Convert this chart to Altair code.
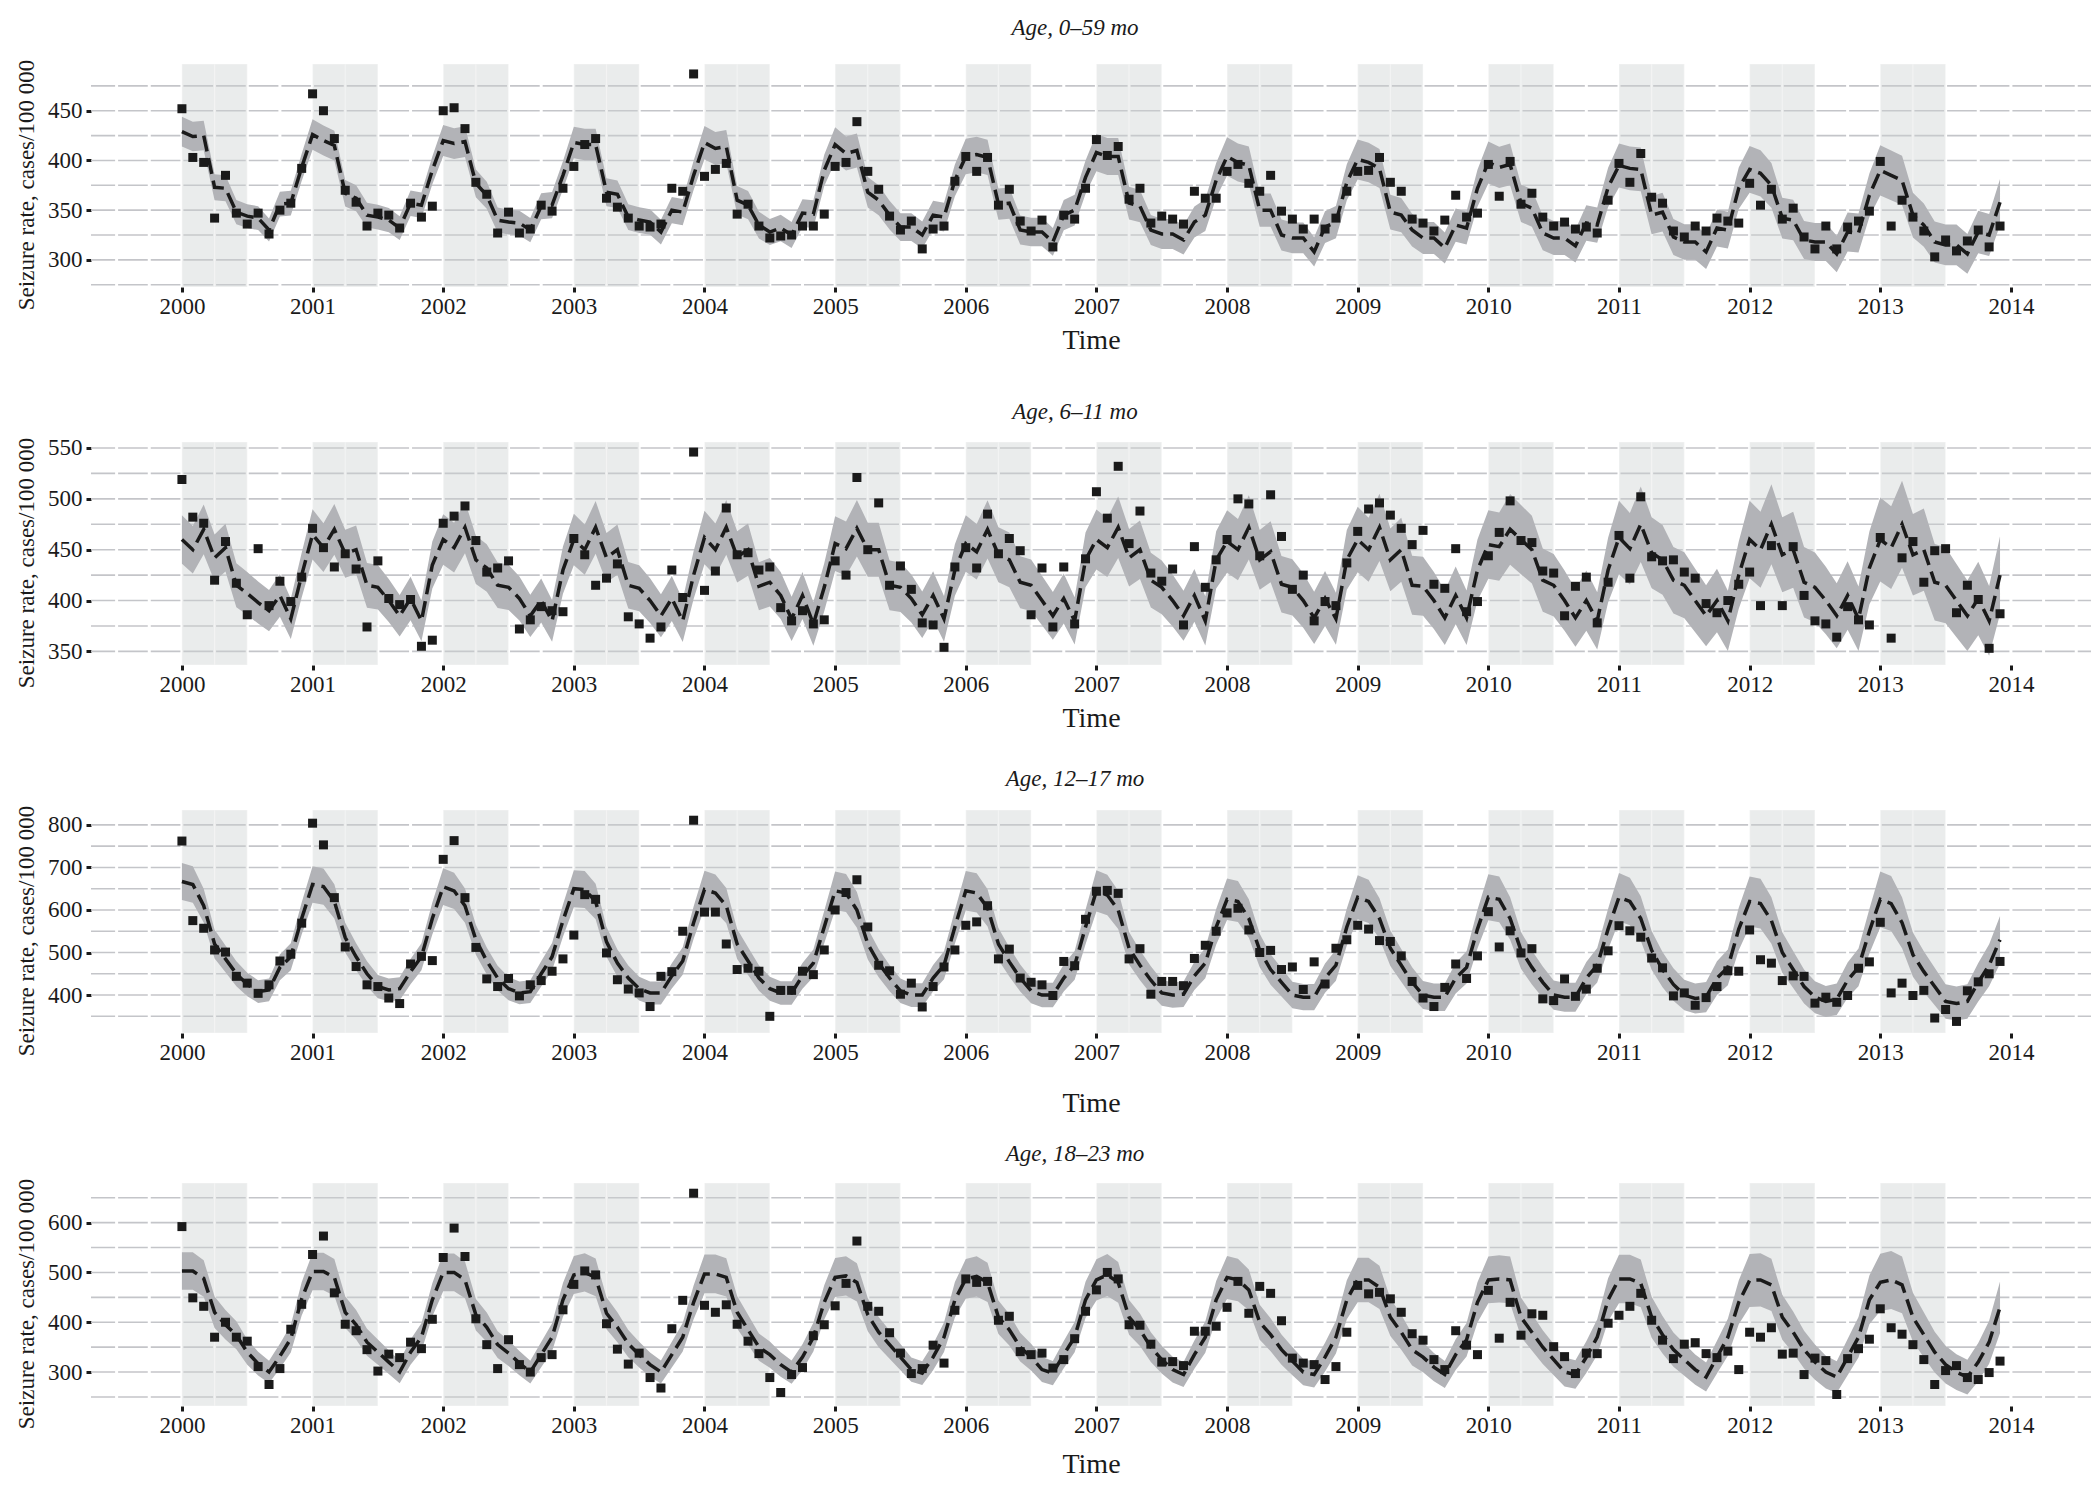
import altair as alt
import pandas as pd

YEARS = list(range(2000, 2014))
MONTHS = list(range(12))
X_TICKS = list(range(2000, 2015))
X_DOMAIN = [1999.304, 2014.613]
FONT = "Liberation Serif"
INK = "#1a1a1a"

titles = ["Age, 0\u201359 mo", "Age, 6\u201311 mo", "Age, 12\u201317 mo", "Age, 18\u201323 mo"]
y_title = "Seizure rate, cases/100 000"
x_title = "Time"

# ---- Panel 1: 0-59 mo ----
p1_obs = [452, 403, 398, 342, 385, 347, 336, 347, 326, 350, 357, 392,
          467, 450, 422, 370, 358, 334, 347, 345, 332, 357, 343, 354,
          450, 453, 432, 378, 366, 327, 348, 327, 331, 355, 349, 372,
          394, 416, 422, 362, 353, 342, 334, 333, 336, 372, 369, 487,
          384, 391, 397, 346, 356, 334, 322, 324, 325, 334, 334, 346,
          394, 398, 439, 389, 371, 344, 330, 339, 311, 331, 334, 379,
          404, 389, 403, 355, 371, 339, 329, 340, 313, 345, 341, 372,
          421, 405, 414, 361, 372, 337, 344, 341, 336, 369, 362, 362,
          389, 396, 377, 369, 385, 349, 341, 331, 341, 331, 342, 369,
          389, 390, 403, 378, 369, 341, 337, 329, 340, 365, 343, 347,
          396, 364, 399, 356, 367, 343, 334, 338, 331, 333, 327, 360,
          397, 378, 407, 363, 357, 329, 323, 334, 329, 342, 339, 337,
          377, 355, 371, 341, 352, 323, 311, 334, 311, 333, 339, 349,
          399, 334, 360, 343, 329, 303, 320, 309, 319, 330, 313, 334]
p1_fit = [429, 424, 425, 373, 372, 348, 344, 342, 330, 356, 357, 393,
          426, 420, 415, 367, 362, 345, 343, 340, 332, 357, 355, 390,
          420, 417, 419, 377, 365, 340, 338, 337, 330, 354, 355, 385,
          418, 416, 416, 368, 366, 343, 340, 338, 328, 350, 348, 385,
          418, 412, 414, 360, 355, 335, 328, 332, 325, 347, 346, 390,
          416, 407, 410, 368, 360, 345, 333, 333, 325, 345, 343, 380,
          404, 406, 403, 356, 357, 330, 328, 328, 318, 345, 350, 383,
          408, 404, 404, 357, 354, 330, 326, 326, 320, 338, 345, 380,
          404, 398, 395, 350, 350, 325, 322, 322, 308, 333, 338, 378,
          401, 398, 392, 348, 345, 330, 322, 322, 312, 335, 332, 372,
          398, 393, 396, 357, 352, 327, 322, 322, 314, 337, 335, 373,
          395, 392, 391, 345, 348, 323, 318, 318, 308, 332, 330, 372,
          391, 387, 375, 342, 340, 320, 318, 318, 306, 328, 327, 365,
          390, 385, 380, 345, 335, 318, 315, 315, 306, 328, 325, 358]
p1_relw = [0.035, 0.036, 0.037, 0.038, 0.040, 0.042, 0.044, 0.046, 0.048, 0.050, 0.053, 0.056, 0.060, 0.065]

# ---- Panel 2: 6-11 mo ----
p2_obs = [519, 482, 476, 420, 458, 417, 386, 451, 395, 419, 399, 423,
          471, 452, 433, 446, 431, 374, 439, 402, 396, 401, 355, 361,
          476, 483, 493, 459, 428, 432, 439, 372, 381, 394, 390, 389,
          461, 445, 415, 422, 436, 384, 377, 363, 374, 430, 403, 546,
          410, 429, 491, 445, 447, 430, 433, 393, 380, 390, 377, 381,
          439, 425, 521, 450, 496, 415, 434, 411, 378, 376, 354, 433,
          452, 432, 485, 446, 461, 449, 386, 432, 374, 433, 377, 441,
          507, 481, 532, 456, 488, 427, 419, 431, 376, 453, 413, 440,
          460, 500, 495, 444, 504, 463, 411, 425, 380, 399, 395, 437,
          468, 490, 496, 484, 471, 455, 469, 416, 412, 451, 389, 399,
          444, 467, 498, 459, 457, 429, 427, 385, 414, 423, 378, 418,
          464, 422, 502, 443, 439, 440, 428, 422, 397, 388, 400, 416,
          428, 395, 454, 395, 453, 405, 380, 377, 364, 394, 381, 376,
          462, 363, 442, 458, 418, 449, 451, 388, 415, 401, 353, 387]
p2_fit = [460, 450, 470, 442, 452, 415, 407, 398, 390, 405, 382, 425,
          465, 452, 470, 446, 450, 415, 413, 400, 385, 402, 380, 435,
          460, 452, 472, 440, 432, 415, 413, 402, 385, 400, 380, 430,
          460, 450, 472, 442, 450, 415, 412, 400, 385, 402, 380, 425,
          462, 450, 472, 443, 450, 414, 418, 405, 382, 405, 377, 413,
          456, 451, 471, 450, 450, 415, 413, 402, 386, 405, 382, 430,
          456, 448, 470, 445, 440, 418, 415, 400, 385, 402, 380, 440,
          460, 452, 472, 442, 450, 420, 413, 400, 385, 405, 380, 440,
          458, 450, 472, 440, 448, 416, 413, 400, 383, 402, 382, 440,
          460, 450, 472, 440, 450, 415, 414, 400, 383, 405, 383, 430,
          455, 453, 470, 460, 450, 420, 415, 400, 383, 400, 380, 430,
          462, 451, 475, 447, 440, 420, 415, 400, 385, 400, 380, 425,
          460, 450, 475, 445, 450, 418, 413, 400, 385, 405, 382, 432,
          460, 452, 475, 445, 450, 418, 415, 400, 385, 402, 380, 425]
p2_relw = [0.052, 0.053, 0.054, 0.055, 0.057, 0.059, 0.061, 0.064, 0.067, 0.070, 0.074, 0.078, 0.083, 0.090]

# ---- Panel 3: 12-17 mo ----
p3_obs = [762, 575, 557, 506, 501, 444, 428, 404, 424, 480, 496, 569,
          804, 753, 629, 513, 467, 424, 420, 393, 380, 473, 491, 481,
          719, 763, 629, 512, 438, 420, 439, 398, 424, 434, 456, 485,
          541, 636, 625, 499, 436, 414, 405, 373, 444, 455, 550, 811,
          595, 595, 520, 460, 463, 456, 350, 411, 411, 456, 448, 506,
          600, 641, 671, 560, 470, 457, 402, 428, 372, 420, 466, 506,
          564, 572, 610, 485, 508, 440, 430, 424, 399, 479, 469, 578,
          644, 646, 639, 485, 509, 402, 432, 432, 422, 486, 517, 550,
          593, 604, 553, 500, 505, 460, 466, 413, 478, 426, 510, 530,
          564, 555, 528, 526, 492, 432, 393, 373, 418, 473, 439, 492,
          596, 513, 551, 499, 509, 391, 387, 438, 397, 414, 463, 504,
          563, 551, 536, 487, 464, 398, 405, 376, 394, 420, 457, 456,
          553, 483, 475, 434, 445, 444, 381, 395, 383, 399, 463, 478,
          571, 405, 428, 399, 411, 346, 366, 338, 410, 431, 450, 479]
p3_fit = [667, 660, 610, 520, 485, 450, 425, 408, 412, 465, 490, 580,
          660, 655, 620, 535, 490, 450, 420, 412, 415, 455, 490, 580,
          655, 645, 610, 530, 480, 440, 415, 405, 408, 450, 490, 575,
          650, 648, 620, 525, 475, 440, 415, 405, 405, 445, 480, 570,
          648, 640, 610, 520, 480, 440, 415, 405, 405, 445, 475, 560,
          645, 640, 600, 520, 475, 440, 410, 400, 400, 440, 470, 560,
          645, 640, 605, 520, 478, 440, 410, 400, 400, 440, 470, 560,
          645, 635, 600, 510, 470, 435, 405, 400, 402, 445, 475, 560,
          625, 620, 580, 505, 460, 430, 400, 395, 395, 440, 470, 560,
          630, 620, 580, 510, 470, 430, 400, 395, 395, 440, 465, 555,
          630, 625, 580, 505, 465, 430, 400, 395, 395, 440, 470, 555,
          630, 620, 580, 505, 460, 425, 400, 392, 395, 440, 465, 555,
          620, 615, 575, 500, 460, 420, 395, 385, 390, 435, 465, 550,
          625, 615, 570, 495, 455, 420, 385, 380, 385, 430, 470, 530]
p3_relw = [0.065, 0.065, 0.066, 0.067, 0.068, 0.070, 0.072, 0.075, 0.078, 0.082, 0.086, 0.090, 0.095, 0.105]

# ---- Panel 4: 18-23 mo ----
p4_obs = [592, 449, 432, 370, 400, 370, 362, 311, 275, 307, 386, 436,
          536, 573, 459, 396, 383, 345, 302, 336, 329, 360, 347, 406,
          530, 589, 532, 407, 355, 307, 365, 315, 300, 329, 335, 425,
          476, 503, 495, 397, 346, 316, 338, 289, 268, 387, 444, 659,
          434, 420, 435, 396, 362, 337, 289, 259, 295, 309, 373, 395,
          433, 478, 563, 432, 422, 379, 338, 297, 307, 354, 318, 424,
          487, 480, 482, 404, 412, 341, 335, 338, 308, 325, 367, 422,
          465, 500, 487, 395, 394, 356, 320, 321, 313, 382, 382, 392,
          430, 482, 418, 472, 458, 403, 328, 318, 315, 285, 311, 380,
          474, 457, 460, 447, 420, 377, 364, 325, 305, 383, 354, 335,
          464, 368, 440, 374, 417, 414, 351, 331, 297, 338, 337, 398,
          414, 432, 458, 404, 364, 327, 356, 359, 337, 329, 342, 305,
          380, 370, 389, 336, 338, 295, 328, 323, 255, 327, 347, 366,
          427, 389, 376, 355, 325, 275, 303, 313, 289, 285, 299, 322]
p4_fit = [503, 503, 488, 420, 395, 374, 340, 317, 300, 332, 367, 447,
          502, 502, 490, 420, 395, 360, 340, 320, 300, 340, 370, 445,
          500, 500, 485, 415, 390, 355, 338, 318, 300, 335, 370, 445,
          495, 500, 490, 418, 390, 357, 335, 315, 300, 335, 370, 440,
          497, 497, 490, 420, 385, 350, 335, 315, 300, 330, 370, 440,
          490, 493, 480, 415, 380, 355, 330, 305, 298, 330, 370, 445,
          487, 492, 480, 410, 385, 350, 330, 305, 298, 335, 370, 445,
          485, 495, 480, 410, 385, 350, 325, 305, 295, 335, 370, 445,
          490, 485, 465, 400, 375, 345, 322, 300, 295, 330, 370, 445,
          485, 485, 470, 410, 380, 345, 330, 310, 295, 335, 365, 440,
          485, 487, 485, 410, 380, 350, 325, 300, 295, 330, 370, 445,
          487, 487, 478, 410, 375, 345, 325, 305, 290, 330, 370, 440,
          484, 485, 475, 410, 380, 345, 320, 300, 290, 330, 370, 445,
          480, 485, 475, 410, 375, 340, 315, 300, 290, 320, 360, 430]
p4_relw = [0.075, 0.075, 0.076, 0.077, 0.078, 0.080, 0.082, 0.085, 0.088, 0.092, 0.097, 0.100, 0.110, 0.120]

# axis breaks / domains per panel
p1_dom, p1_major, p1_minor = [272.7, 497.0], [300, 350, 400, 450], [275, 325, 375, 425, 475]
p2_dom, p2_major, p2_minor = [336.6, 555.9], [350, 400, 450, 500, 550], [375, 425, 475, 525]
p3_dom, p3_major, p3_minor = [310.8, 835.0], [400, 500, 600, 700, 800], [350, 450, 550, 650, 750]
p4_dom, p4_major, p4_minor = [231.9, 679.5], [300, 400, 500, 600], [250, 350, 450, 550, 650]

W, H = 2000, 223


def make_panel(title, obs, fit, relw, ydom, major, minor, title_offset, xtitle_pad):
    t = [y + m / 12 for y in YEARS for m in MONTHS]
    hw = [relw[i // 12] for i in range(len(t))]
    df = pd.DataFrame({"t": t, "obs": obs, "fit": fit, "hw": hw})
    df["lo"] = df["fit"] * (1 - df["hw"])
    df["hi"] = df["fit"] * (1 + df["hw"])

    q0 = [y + q * 0.25 for y in YEARS for q in (0, 1)]
    shade = pd.DataFrame({"x0": q0, "x1": [v + 0.25 for v in q0]})
    grid = pd.DataFrame({"g": sorted(major + minor)})
    vlines = pd.DataFrame({"v": [1999.5 + 0.25 * k for k in range(61)]})

    xs = alt.Scale(domain=X_DOMAIN, nice=False, zero=False)
    ys = alt.Scale(domain=ydom, nice=False, zero=False)
    xaxis = alt.Axis(
        values=X_TICKS, format="d", title=x_title, grid=False, domain=False,
        tickSize=5, tickWidth=3, tickColor=INK, labelFont=FONT, labelFontSize=23,
        labelColor=INK, labelPadding=3, labelFlush=False, labelOverlap=False,
        titleFont=FONT, titleFontSize=28, titleFontWeight="normal", titleColor=INK,
        titlePadding=xtitle_pad)
    yaxis = alt.Axis(
        values=major, title=y_title, grid=False, domain=False,
        tickSize=5, tickWidth=3, tickColor=INK, labelFont=FONT, labelFontSize=23,
        labelColor=INK, labelPadding=4, titleFont=FONT, titleFontSize=23,
        titleFontWeight="normal", titleColor=INK, titlePadding=9,
        titleY=H / 2 + 9)

    hgrid = alt.Chart(grid).mark_rule(color="#C4C5C9", strokeWidth=1.6).encode(
        y=alt.Y("g:Q", scale=ys, axis=yaxis))
    vgrid = alt.Chart(vlines).mark_rule(color="white", strokeWidth=3).encode(
        x=alt.X("v:Q", scale=xs, axis=xaxis))
    rects = alt.Chart(shade).mark_rect(
        color="#CDD1D1", opacity=0.4, stroke="white", strokeWidth=1.2, strokeOpacity=0.35
    ).encode(
        x=alt.X("x0:Q", scale=xs, axis=xaxis), x2="x1:Q",
        y=alt.value(0), y2=alt.value(H))
    band = alt.Chart(df).mark_area(color="#B2B3B7", opacity=1, clip=True).encode(
        x=alt.X("t:Q", scale=xs, axis=xaxis),
        y=alt.Y("lo:Q", scale=ys, axis=yaxis), y2="hi:Q")
    line = alt.Chart(df).mark_line(color=INK, strokeWidth=3.5, strokeDash=[16, 7], clip=True).encode(
        x=alt.X("t:Q", scale=xs, axis=xaxis),
        y=alt.Y("fit:Q", scale=ys, axis=yaxis))
    pts = alt.Chart(df).mark_square(size=81, color=INK, opacity=1, clip=True).encode(
        x=alt.X("t:Q", scale=xs, axis=xaxis),
        y=alt.Y("obs:Q", scale=ys, axis=yaxis))
    return alt.layer(hgrid, vgrid, rects, band, line, pts).properties(
        width=W, height=H,
        title=alt.TitleParams(text=title, font=FONT, fontSize=23, fontStyle="italic",
                              fontWeight="normal", color=INK, offset=title_offset,
                              anchor="middle", frame="group", dx=-16))


c1 = make_panel(titles[0], p1_obs, p1_fit, p1_relw, p1_dom, p1_major, p1_minor, 19, 8)
c2 = make_panel(titles[1], p2_obs, p2_fit, p2_relw, p2_dom, p2_major, p2_minor, 13, 8)
c3 = make_panel(titles[2], p3_obs, p3_fit, p3_relw, p3_dom, p3_major, p3_minor, 14, 25)
c4 = make_panel(titles[3], p4_obs, p4_fit, p4_relw, p4_dom, p4_major, p4_minor, 12, 13)

top = alt.vconcat(c1, c2, spacing=46)
bottom = alt.vconcat(c3, c4, spacing=26)
chart = alt.vconcat(top, bottom, spacing=36).properties(
    padding={"left": 7, "top": 9, "right": 0, "bottom": 0},
    background="white",
).configure_view(stroke=None)

chart.save("out.html", embed_options={"renderer": "svg", "actions": False})
